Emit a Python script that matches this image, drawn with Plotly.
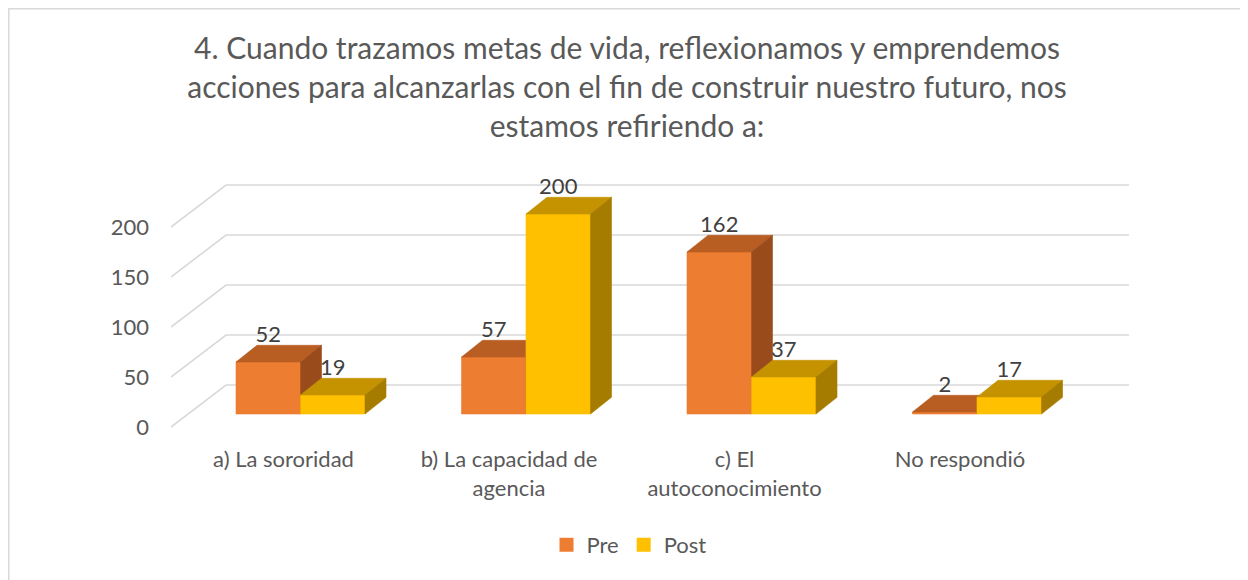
import plotly.graph_objects as go

# ---- data ----
categories = ["a) La sororidad", "b) La capacidad de<br>agencia", "c) El<br>autoconocimiento", "No respondió"]
pre_values = [52, 57, 162, 2]
post_values = [19, 200, 37, 17]
series_names = ["Pre", "Post"]
y_ticks = [0, 50, 100, 150, 200]
title_lines = [
    "4. Cuando trazamos metas de vida, reflexionamos y emprendemos",
    "acciones para alcanzarlas con el fin de construir nuestro futuro, nos",
    "estamos refiriendo a:",
]

# ---- styling / geometry ----
FONT = "Lato"
W, H = 1240, 572           # page body has an 8px margin
PX_PER_CAT = 225.5
bar_w = 64.5 / PX_PER_CAT
depth_dx = 21 / PX_PER_CAT
depth_dy = 16.7
front_plane_dy = -13
back_plane_dy = 29
back_plane_dx = 55 / PX_PER_CAT
x_min, x_max = -0.5743, 3.674
y_min, y_max = -14, 244
ML, MR, MT, MB = 163, 119, 162, 152
PLOT_W = W - ML - MR
PLOT_H = H - MT - MB

colors = {
    "Pre": {"front": "#ED7D31", "top": "#B85E23", "side": "#9A4B1C"},
    "Post": {"front": "#FFC000", "top": "#C59300", "side": "#A67C00"},
}
offsets = {"Pre": -bar_w, "Post": 0.0}
values = {"Pre": pre_values, "Post": post_values}

fig = go.Figure()

# gridlines (perspective walls)
gx, gy = [], []
for v in y_ticks:
    gx += [x_min, x_min + back_plane_dx, x_max, None]
    gy += [v + front_plane_dy, v + back_plane_dy, v + back_plane_dy, None]
fig.add_trace(go.Scatter(x=gx, y=gy, mode="lines", line=dict(color="#D9D9D9", width=1.6),
                         hoverinfo="skip", showlegend=False))

def poly_trace(xs, ys, color):
    return go.Scatter(x=xs, y=ys, mode="lines", fill="toself", fillcolor=color,
                      line=dict(color=color, width=0.6), hoverinfo="skip", showlegend=False)

for s in series_names:
    fx, fy, tx, ty, sx, sy = [], [], [], [], [], []
    for i, v in enumerate(values[s]):
        x0 = i + offsets[s]
        x1 = x0 + bar_w
        fx += [x0, x1, x1, x0, x0, None]
        fy += [0, 0, v, v, 0, None]
        tx += [x0, x1, x1 + depth_dx, x0 + depth_dx, x0, None]
        ty += [v, v, v + depth_dy, v + depth_dy, v, None]
        sx += [x1, x1 + depth_dx, x1 + depth_dx, x1, x1, None]
        sy += [0, depth_dy, v + depth_dy, v, 0, None]
    fig.add_trace(poly_trace(fx, fy, colors[s]["front"]))
    fig.add_trace(poly_trace(tx, ty, colors[s]["top"]))
    fig.add_trace(poly_trace(sx, sy, colors[s]["side"]))

# data labels
for s in series_names:
    xs = [i + offsets[s] + bar_w / 2 for i in range(len(categories))]
    ys = [v + depth_dy + 9 for v in values[s]]
    fig.add_trace(go.Scatter(x=xs, y=ys, mode="text", text=[str(v) for v in values[s]],
                             textposition="middle center",
                             textfont=dict(family=FONT, size=22, color="#404040"),
                             hoverinfo="skip", showlegend=False))

# legend entries
for s in series_names:
    fig.add_trace(go.Scatter(x=[None], y=[None], mode="markers", name=s,
                             marker=dict(symbol="square", size=14, color=colors[s]["front"])))

fig.update_layout(
    width=W, height=H,
    margin=dict(l=ML, r=MR, t=MT, b=MB),
    paper_bgcolor="white", plot_bgcolor="white",
    font=dict(family=FONT, color="#595959"),
    title=dict(text="<br>".join(title_lines), x=619 / W, xref="container", xanchor="center",
               y=1 - 51 / H, yref="container", yanchor="top",
               font=dict(family=FONT, size=30, color="#595959")),
    xaxis=dict(range=[x_min, x_max], showgrid=False, zeroline=False, showline=False,
               tickvals=[i - 17 / PX_PER_CAT for i in range(len(categories))],
               ticktext=categories, ticks="", ticklabelstandoff=16,
               tickfont=dict(family=FONT, size=22, color="#595959")),
    yaxis=dict(range=[y_min, y_max], showgrid=False, zeroline=False, showline=False,
               tickvals=[v + front_plane_dy for v in y_ticks], ticktext=[str(v) for v in y_ticks],
               ticks="", ticklabelstandoff=21,
               tickfont=dict(family=FONT, size=22, color="#595959")),
    legend=dict(orientation="h", x=621 / W, xref="container", xanchor="center",
                y=1 - 537 / H, yref="container", yanchor="middle",
                font=dict(family=FONT, size=22, color="#595959"), itemwidth=30),
    shapes=[dict(type="rect", xref="paper", yref="paper",
                 x0=(0.8 - ML) / PLOT_W, x1=(W + 20 - ML) / PLOT_W,
                 y0=(MT + PLOT_H - H - 20) / PLOT_H, y1=(MT + PLOT_H - 0.8) / PLOT_H,
                 line=dict(color="#D9D9D9", width=1.5), fillcolor="rgba(0,0,0,0)", layer="below")],
)

fig.write_html("out.html")
